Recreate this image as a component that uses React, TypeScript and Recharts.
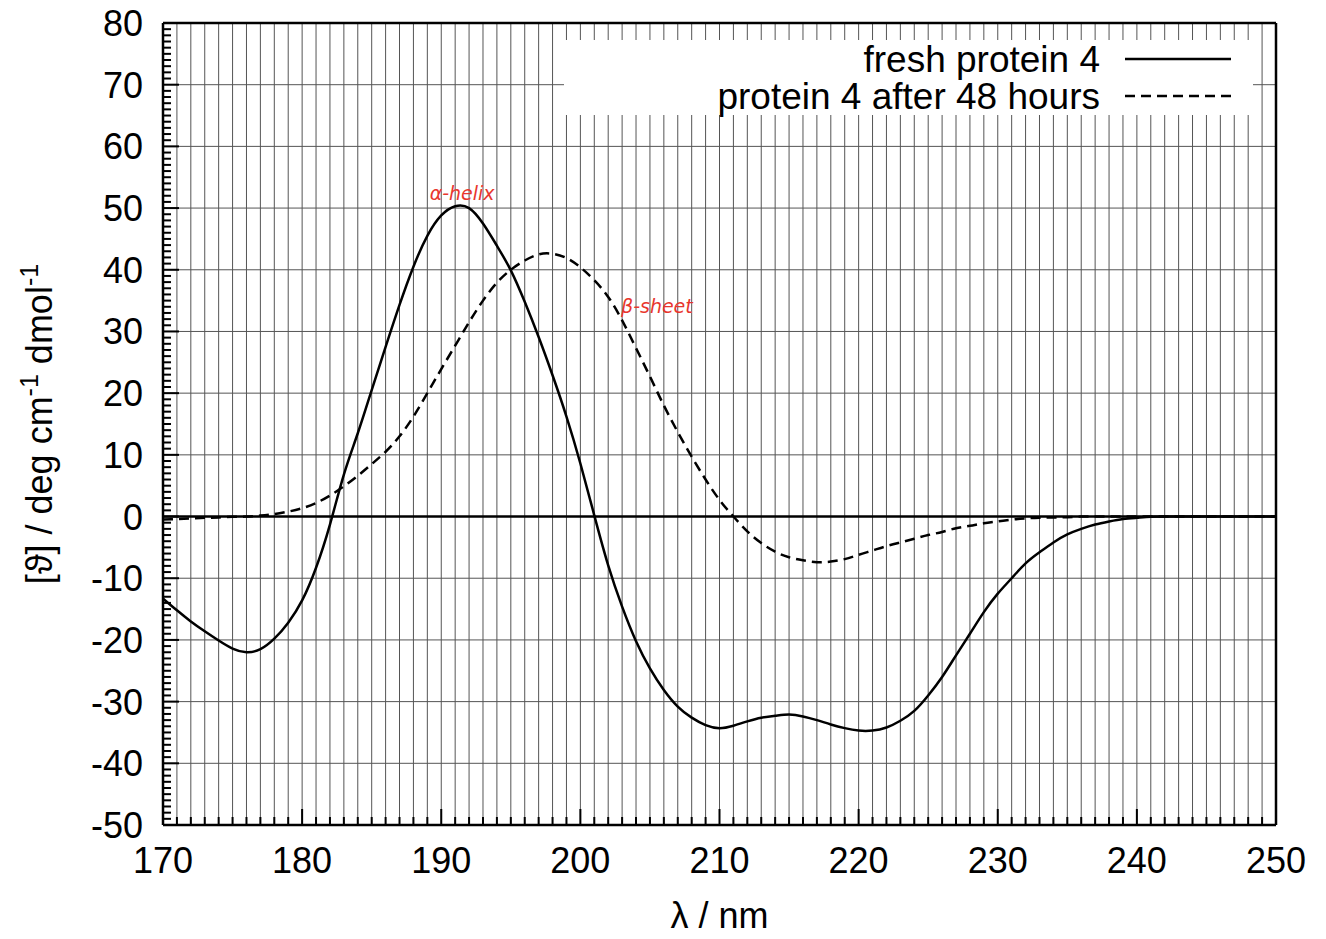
import React from "react"
import {
  CartesianGrid,
  Legend,
  Line,
  LineChart,
  ReferenceDot,
  ReferenceLine,
  XAxis,
  YAxis,
} from "recharts"

// wavelength in nm
const wavelengths = [
  170, 171, 172, 173, 174, 175, 176, 177, 178, 179,
  180, 181, 182, 183, 184, 185, 186, 187, 188, 189,
  190, 191, 192, 193, 194, 195, 196, 197, 198, 199,
  200, 201, 202, 203, 204, 205, 206, 207, 208, 209,
  210, 211, 212, 213, 214, 215, 216, 217, 218, 219,
  220, 221, 222, 223, 224, 225, 226, 227, 228, 229,
  230, 231, 232, 233, 234, 235, 236, 237, 238, 239,
  240, 241, 242, 243, 244, 245, 246, 247, 248, 249,
  250,
]

const freshProtein = [
  -13.3, -15.2, -17.0, -18.6, -20.1, -21.4, -22.0, -21.5, -19.8, -17.2,
  -13.6, -8.3, -1.3, 6.8, 13.5, 20.5, 27.5, 34.3, 40.5, 45.5,
  48.8, 50.3, 50.0, 47.5, 43.9, 39.9, 34.8, 29.1, 22.9, 16.2,
  8.6, 0.2, -7.9, -14.6, -20.2, -24.6, -28.1, -30.8, -32.6, -33.8,
  -34.3, -33.9, -33.2, -32.6, -32.3, -32.1, -32.4, -33.0, -33.7, -34.3,
  -34.7, -34.7, -34.2, -33.1, -31.5, -29.0, -26.0, -22.5, -19.0, -15.5,
  -12.5, -10.0, -7.6, -5.8, -4.2, -2.9, -2.0, -1.3, -0.8, -0.4,
  -0.2, -0.05, 0, 0, 0, 0, 0, 0, 0, 0,
  0,
]

const protein48h = [
  -0.5, -0.4, -0.3, -0.2, -0.15, -0.05, 0, 0.15, 0.4, 0.8,
  1.35, 2.2, 3.4, 4.9, 6.6, 8.5, 10.5, 13.0, 16.2, 20.0,
  23.9, 27.7, 31.5, 35.0, 37.9, 40.0, 41.5, 42.5, 42.6, 41.9,
  40.4, 38.3, 35.6, 31.8, 27.3, 22.7, 18.0, 13.7, 9.7, 6.0,
  2.7, 0.0, -2.4, -4.3, -5.7, -6.6, -7.1, -7.4, -7.3, -6.9,
  -6.2, -5.5, -4.8, -4.2, -3.6, -3.0, -2.5, -1.9, -1.5, -1.1,
  -0.8, -0.5, -0.3, -0.2, -0.15, -0.1, 0, 0, 0, 0,
  0, 0, 0, 0, 0, 0, 0, 0, 0, 0,
  0,
]

const xMajorTicks = [170, 180, 190, 200, 210, 220, 230, 240, 250]
const yMajorTicks = [-50, -40, -30, -20, -10, 0, 10, 20, 30, 40, 50, 60, 70, 80]

const data = wavelengths.map((nm, i) => ({
  nm,
  fresh: freshProtein[i],
  aged: protein48h[i],
}))

// one minor tick per unit between the labelled ticks
const minorTicks = (major: number[]) => {
  const out: number[] = []
  for (let v = major[0]; v <= major[major.length - 1]; v++) out.push(v)
  return out
}
const xTicks = minorTicks(xMajorTicks)
const yTicks = minorTicks(yMajorTicks)

const FONT = "'Liberation Sans', Arial, Helvetica, sans-serif"

const XTick = (props: any) => {
  const { x, y, payload } = props
  const major = xMajorTicks.includes(payload.value)
  return (
    <g>
      <line x1={x} x2={x} y1={y} y2={y - (major ? 16 : 8)} stroke="#000" strokeWidth={2} />
      {major && (
        <text x={x} y={y + 48} textAnchor="middle" fontSize={36} fontFamily={FONT} fill="#000">
          {payload.value}
        </text>
      )}
    </g>
  )
}

const YTick = (props: any) => {
  const { x, y, payload } = props
  const major = yMajorTicks.includes(payload.value)
  return (
    <g>
      <line x1={x} x2={x + (major ? 16 : 8)} y1={y} y2={y} stroke="#000" strokeWidth={2} />
      {major && (
        <text x={x - 20} y={y + 13} textAnchor="end" fontSize={36} fontFamily={FONT} fill="#000">
          {payload.value}
        </text>
      )}
    </g>
  )
}

const YTitle = (props: any) => {
  const vb = props.viewBox
  const cx = vb.x + 44
  const cy = vb.y + vb.height / 2
  return (
    <text
      x={cx}
      y={cy}
      transform={`rotate(-90 ${cx} ${cy})`}
      textAnchor="middle"
      fontSize={36}
      fontFamily={FONT}
      fill="#000"
    >
      [ϑ] / deg cm
      <tspan dy={-14} fontSize={25}>-1</tspan>
      <tspan dy={14}> dmol</tspan>
      <tspan dy={-14} fontSize={25}>-1</tspan>
    </text>
  )
}

const XTitle = (props: any) => {
  const vb = props.viewBox
  return (
    <text
      x={vb.x + vb.width / 2}
      y={vb.y + 103}
      textAnchor="middle"
      fontSize={36}
      fontFamily={FONT}
      fill="#000"
    >
      λ / nm
    </text>
  )
}

const LegendBox = (props: any) => {
  const payload = props.payload ?? []
  return (
    <svg width={689} height={84} style={{ display: "block", overflow: "visible" }}>
      <rect width={689} height={75} fill="#fff" />
      {payload.map((entry: any, i: number) => {
        const cy = 19 + i * 37
        return (
          <g key={entry.value}>
            <text
              x={536}
              y={cy + 13}
              textAnchor="end"
              fontSize={37}
              fontFamily={FONT}
              fill="#000"
            >
              {entry.value}
            </text>
            <line
              x1={561}
              x2={667}
              y1={cy}
              y2={cy}
              stroke="#000"
              strokeWidth={2.5}
              strokeDasharray={entry.payload?.strokeDasharray}
            />
          </g>
        )
      })}
    </svg>
  )
}

const NOTE = {
  position: "center" as const,
  fill: "#e8362d",
  fontSize: 19,
  fontStyle: "italic",
  fontFamily: "'DejaVu Sans', sans-serif",
}

export default function App() {
  return (
    <LineChart
      width={1310}
      height={931}
      data={data}
      margin={{ top: 15, right: 42, bottom: 4, left: 0 }}
      style={{ overflow: "visible" }}
    >
      <CartesianGrid
        stroke="#555"
        strokeWidth={1}
        horizontalValues={yMajorTicks}
        verticalValues={xTicks}
      />
      <XAxis
        dataKey="nm"
        type="number"
        domain={[170, 250]}
        ticks={xTicks}
        interval={0}
        tickSize={0}
        tickMargin={0}
        tick={<XTick />}
        height={110}
        axisLine={{ stroke: "#000", strokeWidth: 2.5 }}
        label={{ content: <XTitle /> }}
      />
      <YAxis
        type="number"
        domain={[-50, 80]}
        ticks={yTicks}
        interval={0}
        tickSize={0}
        tickMargin={0}
        tick={<YTick />}
        width={155}
        axisLine={{ stroke: "#000", strokeWidth: 2.5 }}
        label={{ content: <YTitle /> }}
      />
      <ReferenceLine y={0} stroke="#000" strokeWidth={2.5} />
      <ReferenceLine y={80} stroke="#000" strokeWidth={2.5} />
      <ReferenceLine x={250} stroke="#000" strokeWidth={2.5} />
      <Legend
        layout="horizontal"
        align="center"
        verticalAlign="middle"
        content={<LegendBox />}
        wrapperStyle={{ left: 556, top: 32, width: 689, height: 75 }}
      />
      <Line
        name="fresh protein 4"
        type="natural"
        dataKey="fresh"
        stroke="#000"
        strokeWidth={2.5}
        dot={false}
        activeDot={false}
        isAnimationActive={false}
      />
      <Line
        name="protein 4 after 48 hours"
        type="natural"
        dataKey="aged"
        stroke="#000"
        strokeWidth={2.5}
        strokeDasharray="10 6"
        dot={false}
        activeDot={false}
        isAnimationActive={false}
      />
      <ReferenceDot
        x={191.5}
        y={52.4}
        r={0}
        fill="none"
        stroke="none"
        label={{ value: "α-helix", ...NOTE }}
      />
      <ReferenceDot
        x={205.5}
        y={34.1}
        r={0}
        fill="none"
        stroke="none"
        label={{ value: "β-sheet", ...NOTE }}
      />
    </LineChart>
  )
}
